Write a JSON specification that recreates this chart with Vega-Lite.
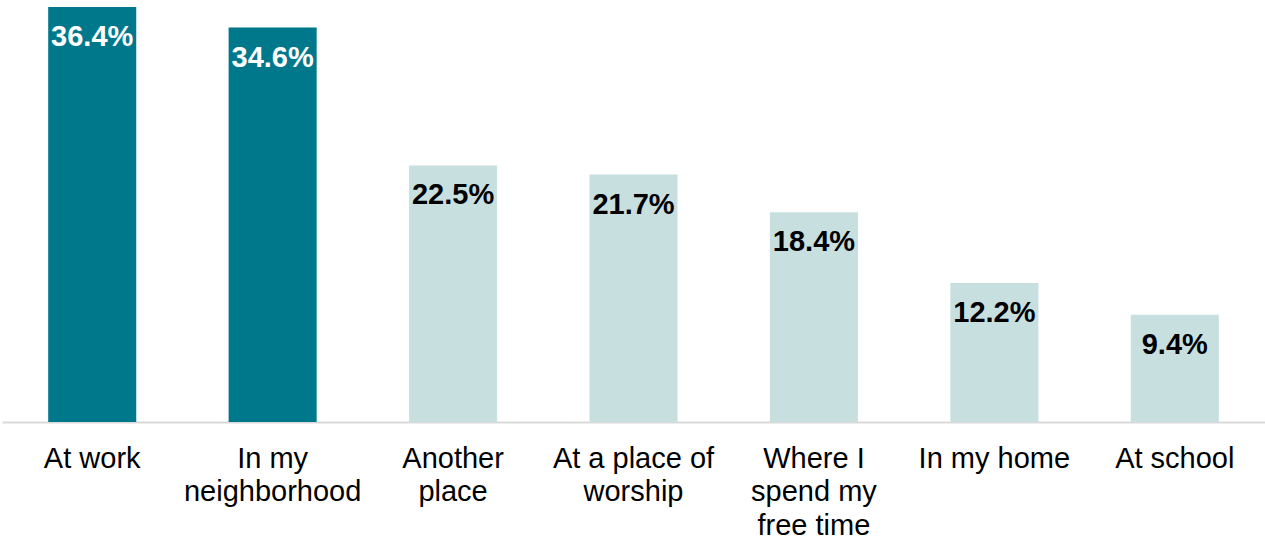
{
  "$schema": "https://vega.github.io/schema/vega-lite/v6.json",
  "width": 1263,
  "height": 415,
  "autosize": {"type": "none"},
  "padding": {"left": 2, "right": 0, "top": 7, "bottom": 116},
  "background": "white",
  "config": {"view": {"stroke": null}, "font": "Liberation Sans"},
  "data": {"values": [
    {"place": "At work", "value": 36.4},
    {"place": "In my|neighborhood", "value": 34.6},
    {"place": "Another|place", "value": 22.5},
    {"place": "At a place of|worship", "value": 21.7},
    {"place": "Where I|spend my|free time", "value": 18.4},
    {"place": "In my home", "value": 12.2},
    {"place": "At school", "value": 9.4}
  ]},
  "transform": [{"calculate": "format(datum.value, '.1f') + '%'", "as": "label"}],
  "encoding": {
    "x": {"field": "place", "type": "nominal", "sort": null,
      "scale": {"paddingInner": 0.512, "paddingOuter": 0.256},
      "axis": {"title": null, "labelAngle": 0, "ticks": false, "labelPadding": 22,
        "labelExpr": "split(datum.value, '|')", "labelLineHeight": 33.5,
        "labelFont": "Liberation Sans", "labelFontSize": 29, "labelColor": "#000000",
        "domainColor": "#d9d9d9", "domainWidth": 2, "grid": false}},
    "y": {"field": "value", "type": "quantitative",
      "scale": {"domain": [0, 36.4], "nice": false}, "axis": null}
  },
  "layer": [
    {"mark": {"type": "bar"},
     "encoding": {"color": {"condition": {"test": "datum.value > 30", "value": "#00788C"}, "value": "#C8DFE0"}}},
    {"mark": {"type": "text", "baseline": "top", "dy": 16, "fontSize": 29, "fontWeight": "bold", "font": "Liberation Sans"},
     "encoding": {"text": {"field": "label", "type": "nominal"},
       "color": {"condition": {"test": "datum.value > 30", "value": "#ffffff"}, "value": "#000000"}}}
  ]
}
